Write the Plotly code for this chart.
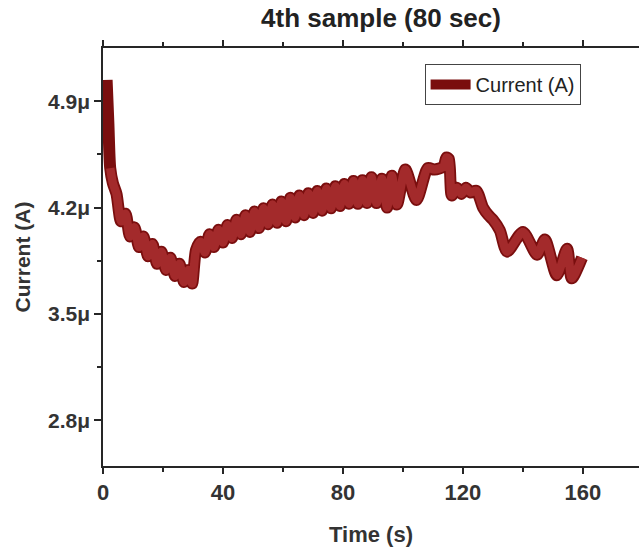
import plotly.graph_objects as go

# ---- data (time in s, current in microamps) ----
time_s = [
    1.2, 1.8, 2.4, 3.3, 4.5, 6.0, 7.5, 9.0, 10.5, 12.0, 13.5, 15.0, 16.5, 18.0,
    19.5, 21.0, 22.5, 24.0, 25.5, 27.0, 28.5, 29.7, 31.0,
    32.5, 34.0, 35.5, 37.0, 38.5, 40.0, 41.5, 43.0, 44.5, 46.0, 47.5, 49.0,
    50.5, 52.0, 53.5, 55.0, 56.5, 58.0, 59.5, 61.0, 62.5, 64.0, 65.5, 67.0,
    68.5, 70.0, 71.5, 73.0, 74.5, 76.0, 77.5, 79.0, 80.5, 82.0, 83.5, 85.0,
    86.5, 88.0,
    89.5, 91.2, 93.0, 94.7, 96.3, 98.0, 100.8, 104.5, 108.3, 110.5, 113.5,
    114.5, 115.3, 116.3, 118.0, 119.5, 121.0, 122.5, 124.5, 126.7, 128.5,
    130.0, 132.3, 134.7, 140.0, 144.7, 147.3, 151.3, 154.7, 156.3, 159.7,
]
current_uA = [
    5.04, 4.75, 4.46, 4.36, 4.29, 4.11, 4.16, 4.01, 4.07, 3.94, 4.01, 3.88,
    3.96, 3.83, 3.91, 3.79, 3.87, 3.75, 3.83, 3.71, 3.79, 3.70, 3.92,
    3.975, 3.905, 4.025, 3.94, 4.055, 3.97, 4.085, 4.00, 4.12, 4.025, 4.15,
    4.04, 4.175, 4.065, 4.195, 4.09, 4.22, 4.10, 4.24, 4.11, 4.265, 4.135,
    4.28, 4.15, 4.295, 4.165, 4.31, 4.18, 4.325, 4.195, 4.34, 4.21, 4.355,
    4.225, 4.375, 4.225, 4.38, 4.23,
    4.40, 4.23, 4.39, 4.20, 4.41, 4.22, 4.45, 4.25, 4.46, 4.45, 4.47,
    4.53, 4.52, 4.28, 4.33, 4.29, 4.33, 4.30, 4.31, 4.20, 4.15,
    4.12, 4.05, 3.91, 4.04, 3.89, 3.99, 3.755, 3.93, 3.735, 3.87,
]

x_tickvals = [0, 40, 80, 120, 160]
x_minor = [20, 60, 100, 140]
y_tickvals = [2.8, 3.5, 4.2, 4.9]
y_ticktext = ["2.8\u03bc", "3.5\u03bc", "4.2\u03bc", "4.9\u03bc"]
y_minor = [3.15, 3.85, 4.55]

FONT = "Arial, Liberation Sans, sans-serif"
AX = "#262626"

W, H = 639, 548

fig = go.Figure()
# dark outline (also legend entry)
fig.add_trace(go.Scatter(
    x=time_s, y=current_uA, mode="lines", name="Current (A)",
    line=dict(color="#7a0e0e", width=12, shape="spline", smoothing=0.7),
    showlegend=True,
))
# lighter body (skips the steep dark start)
fig.add_trace(go.Scatter(
    x=time_s[2:], y=current_uA[2:], mode="lines", xaxis="x2",
    line=dict(color="#a32a2b", width=8.5, shape="spline", smoothing=0.7),
    showlegend=False, hoverinfo="skip",
))

common_x = dict(
    range=[0, 178.7], showline=True, linecolor=AX, linewidth=1.5,
    ticks="outside", ticklen=6, tickwidth=1.5, tickcolor=AX,
    tickmode="array", tickvals=x_tickvals, automargin=False,
    minor=dict(tickmode="array", tickvals=x_minor, ticks="outside",
               ticklen=4, tickwidth=1.5, tickcolor=AX),
    showgrid=False, zeroline=False,
)

fig.update_layout(
    width=W, height=H,
    margin=dict(l=103, r=0, t=48, b=82, autoexpand=False),
    paper_bgcolor="white", plot_bgcolor="white",
    font=dict(family=FONT, color="#222222"),
    title=dict(text="4th sample (80 sec)", x=381 / W, xref="container",
               xanchor="center", y=1 - 18 / H, yref="container",
               yanchor="middle", automargin=False,
               font=dict(size=26, family=FONT, weight="bold", color="#222")),
    xaxis=dict(**common_x,
               ticktext=[str(v) for v in x_tickvals],
               tickfont=dict(size=22, family=FONT, weight="bold", color="#333"),
               title=dict(text="Time (s)", standoff=22,
                          font=dict(size=22, family=FONT, weight="bold",
                                    color="#333"))),
    xaxis2=dict(**common_x, overlaying="x", side="top", matches="x",
                showticklabels=False),
    yaxis=dict(
        range=[2.5, 5.25], showline=True, linecolor=AX, linewidth=1.5,
        ticks="outside", ticklen=7, tickwidth=1.5, tickcolor=AX,
        tickmode="array", tickvals=y_tickvals, ticktext=y_ticktext,
        automargin=False,
        minor=dict(tickmode="array", tickvals=y_minor, ticks="outside",
                   ticklen=4, tickwidth=1.5, tickcolor=AX),
        tickfont=dict(size=21, family=FONT, weight="bold", color="#333"),
        showgrid=False, zeroline=False,
        title=dict(text="Current (A)", standoff=12,
                   font=dict(size=21, family=FONT, weight="bold", color="#333")),
    ),
    legend=dict(x=0.6, y=0.962, xanchor="left",
                yanchor="top", bordercolor="#444", borderwidth=1,
                bgcolor="white", font=dict(size=20, family=FONT, color="#222"),
                itemwidth=40, tracegroupgap=0),
)

# remove the page's default body margin so the figure fills the window
fig.write_html("out.html", config={"displayModeBar": False},
               post_script="document.body.style.margin='0';")
